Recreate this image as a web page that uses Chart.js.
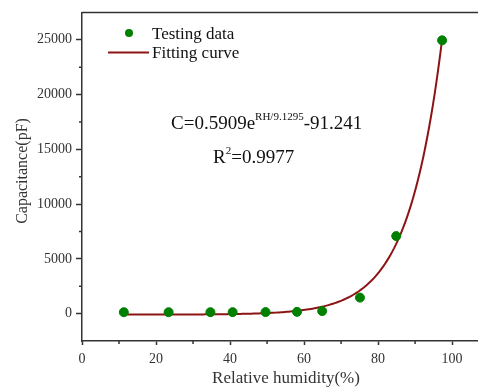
<!DOCTYPE html>
<html>
<head>
<meta charset="utf-8">
<script src="https://cdn.jsdelivr.net/npm/chart.js@4.4.1/dist/chart.umd.min.js"></script>
<style>
  html, body { margin: 0; padding: 0; background: #fff; }
  canvas { display: block; }
</style>
</head>
<body>
<canvas id="chart" width="478" height="389"></canvas>
<script>
// measured capacitance vs relative humidity
const humidity = [11.3, 23.4, 34.7, 40.7, 49.6, 58.1, 64.9, 75.1, 84.9, 97.3];
const capacitance = [130, 130, 130, 135, 140, 160, 230, 1460, 7080, 24950];

// exponential fit: C = A * e^(RH / T) + B
const fitA = 0.5909;
const fitT = 9.1295;
const fitB = -91.241;
const fitR2 = 0.9977;

const xTicks = [0, 20, 40, 60, 80, 100];
const yTicks = [0, 5000, 10000, 15000, 20000, 25000];
const xMinorTicks = [10, 30, 50, 70, 90];
const yMinorTicks = [2500, 7500, 12500, 17500, 22500];

// sample the fitted curve over the measured range
const fitCurve = [];
for (let rh = humidity[0]; rh <= humidity[humidity.length - 1] + 0.01; rh += 0.5) {
  fitCurve.push({ x: rh, y: fitA * Math.exp(rh / fitT) + fitB });
}

const axisColor = "#333333";
const serif = "'Liberation Serif', 'Times New Roman', serif";
const pointColor = "rgb(0, 128, 0)";
const curveColor = "rgb(140, 20, 20)";

const decor = {
  id: "decor",
  afterDraw(chart) {
    const { ctx, chartArea: a, scales } = chart;
    const x = scales.x, y = scales.y;
    ctx.save();
    ctx.strokeStyle = axisColor;
    ctx.lineWidth = 1.5;
    // frame top
    ctx.beginPath();
    ctx.moveTo(a.left, a.top);
    ctx.lineTo(a.right, a.top);
    ctx.stroke();
    // minor ticks
    ctx.beginPath();
    xMinorTicks.forEach((v) => {
      const px = x.getPixelForValue(v);
      ctx.moveTo(px, a.bottom);
      ctx.lineTo(px, a.bottom + 3);
    });
    yMinorTicks.forEach((v) => {
      const py = y.getPixelForValue(v);
      ctx.moveTo(a.left, py);
      ctx.lineTo(a.left - 3, py);
    });
    ctx.stroke();

    // axis titles
    ctx.fillStyle = axisColor;
    ctx.textAlign = "center";
    ctx.textBaseline = "middle";
    ctx.font = "17px " + serif;
    ctx.fillText("Relative humidity(%)", 286, 379);
    ctx.save();
    ctx.translate(23, 171);
    ctx.rotate(-Math.PI / 2);
    ctx.font = "16px " + serif;
    ctx.fillText("Capacitance(pF)", 0, 0);
    ctx.restore();

    // legend
    ctx.fillStyle = pointColor;
    ctx.beginPath();
    ctx.arc(129, 33, 4, 0, Math.PI * 2);
    ctx.fill();
    ctx.strokeStyle = curveColor;
    ctx.lineWidth = 2;
    ctx.beginPath();
    ctx.moveTo(108, 52.5);
    ctx.lineTo(149, 52.5);
    ctx.stroke();
    ctx.fillStyle = "#111";
    ctx.textAlign = "left";
    ctx.textBaseline = "alphabetic";
    ctx.font = "17px " + serif;
    ctx.fillText("Testing data", 152, 39);
    ctx.fillText("Fitting curve", 152, 58);

    // fit equation
    const big = "19px " + serif, small = "11px " + serif;
    let cx = 171;
    [
      ["C=" + fitA + "e", big, 129],
      ["RH/" + fitT, small, 120],
      [String(fitB), big, 129],
    ].forEach(([t, f, by]) => {
      ctx.font = f;
      ctx.fillText(t, cx, by);
      cx += ctx.measureText(t).width;
    });
    cx = 213;
    [["R", big, 163], ["2", small, 154], ["=" + fitR2, big, 163]].forEach(([t, f, by]) => {
      ctx.font = f;
      ctx.fillText(t, cx, by);
      cx += ctx.measureText(t).width;
    });
    ctx.restore();
  },
};

const ctx = document.getElementById("chart").getContext("2d");
new Chart(ctx, {
  type: "scatter",
  data: {
    datasets: [
      {
        label: "Testing data",
        data: humidity.map((h, i) => ({ x: h, y: capacitance[i] })),
        backgroundColor: pointColor,
        borderColor: pointColor,
        pointRadius: 4.5,
        showLine: false,
      },
      {
        label: "Fitting curve",
        data: fitCurve,
        borderColor: curveColor,
        borderWidth: 2,
        pointRadius: 0,
        showLine: true,
        tension: 0,
      },
    ],
  },
  options: {
    responsive: false,
    animation: false,
    layout: { autoPadding: false, padding: { top: 12, right: 0, left: 0, bottom: 0 } },
    plugins: { legend: { display: false }, tooltip: { enabled: false } },
    scales: {
      x: {
        type: "linear",
        min: 0,
        max: 107,
        afterBuildTicks: (s) => { s.ticks = xTicks.map((v) => ({ value: v })); },
        afterFit: (s) => { s.height = 48; s.paddingRight = 0; s.paddingLeft = 0; },
        grid: { drawOnChartArea: false, drawTicks: true, tickLength: 4, tickColor: axisColor, tickWidth: 1.5 },
        border: { color: axisColor, width: 1.5 },
        ticks: { color: axisColor, font: { family: serif, size: 14 }, padding: 6, maxRotation: 0 },
      },
      y: {
        type: "linear",
        min: -2500,
        max: 27500,
        afterBuildTicks: (s) => { s.ticks = yTicks.map((v) => ({ value: v })); },
        afterFit: (s) => { s.width = 82; },
        grid: { drawOnChartArea: false, drawTicks: true, tickLength: 6, tickColor: axisColor, tickWidth: 1.5 },
        border: { color: axisColor, width: 1.5 },
        ticks: { color: axisColor, font: { family: serif, size: 14 }, padding: 4, callback: (v) => String(v) },
      },
    },
  },
  plugins: [decor],
});
</script>
</body>
</html>
